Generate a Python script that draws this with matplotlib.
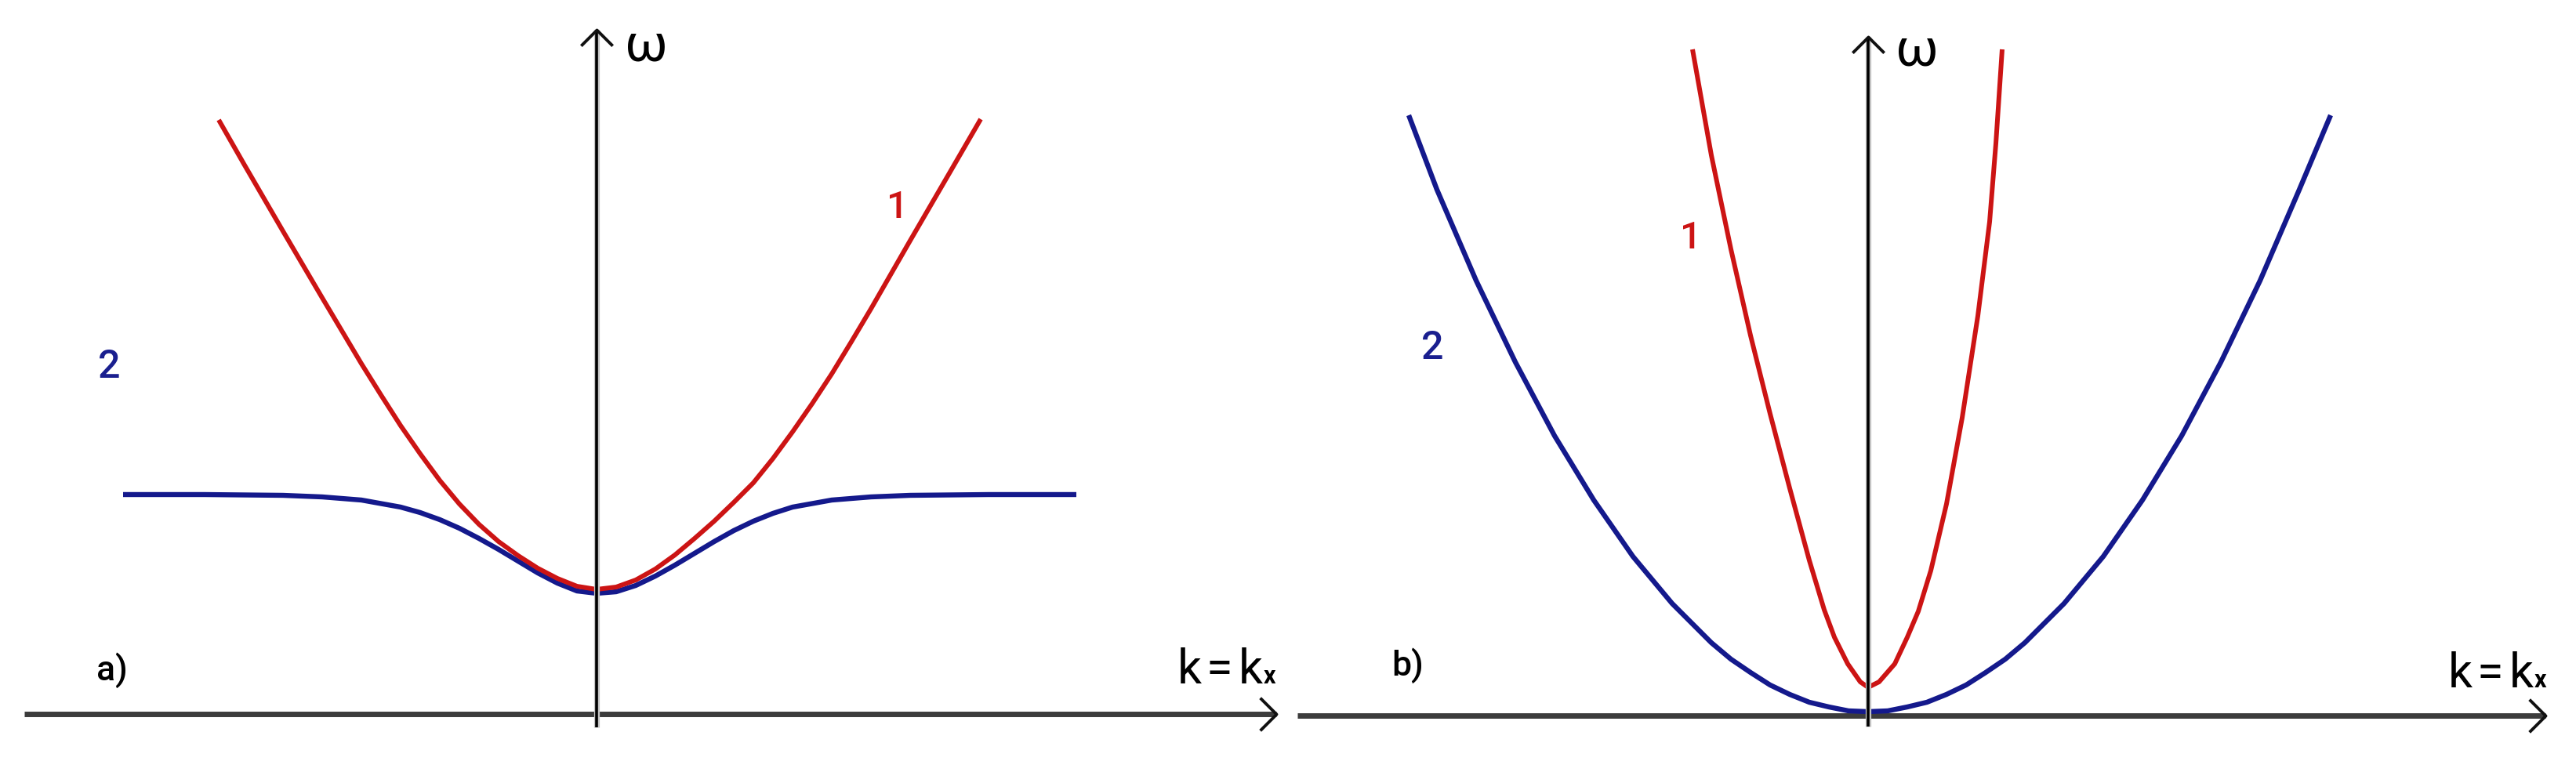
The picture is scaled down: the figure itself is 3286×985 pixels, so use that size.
import matplotlib
matplotlib.use("Agg")
import matplotlib.pyplot as plt
from matplotlib.path import Path

# ---------------- data ----------------
# panel a)  k in arbitrary units, omega in arbitrary units
a_red_k = [-4.82, -4.5, -4.0, -3.5, -3.0, -2.75, -2.5, -2.25, -2.0, -1.75, -1.5, -1.25,
           -1.0, -0.75, -0.5, -0.25, 0.0, 0.25, 0.5, 0.75, 1.0, 1.25, 1.5, 1.75, 2.0,
           2.25, 2.5, 2.75, 3.0, 3.25, 3.5, 4.0, 4.5, 4.90]
a_red_w = [7.58, 7.02, 6.16, 5.31, 4.47, 4.07, 3.68, 3.32, 2.98, 2.68, 2.42, 2.20,
           2.02, 1.86, 1.73, 1.63, 1.59, 1.62, 1.71, 1.85, 2.03, 2.24, 2.46, 2.70, 2.95,
           3.26, 3.60, 3.96, 4.34, 4.75, 5.17, 6.04, 6.90, 7.59]
a_blue_k = [-6.04, -5.0, -4.0, -3.5, -3.0, -2.5, -2.25, -2.0, -1.75, -1.5, -1.25, -1.0,
            -0.75, -0.5, -0.25, 0.0, 0.25, 0.5, 0.75, 1.0, 1.25, 1.5, 1.75, 2.0, 2.25,
            2.5, 3.0, 3.5, 4.0, 5.0, 6.12]
a_blue_w = [2.80, 2.80, 2.79, 2.77, 2.73, 2.64, 2.57, 2.48, 2.37, 2.24, 2.10, 1.95,
            1.80, 1.67, 1.57, 1.54, 1.56, 1.64, 1.76, 1.90, 2.05, 2.20, 2.34, 2.46, 2.56,
            2.64, 2.73, 2.77, 2.79, 2.80, 2.80]

# panel b)
b_red_k = [-2.24, -2.0, -1.75, -1.5, -1.25, -1.0, -0.75, -0.56, -0.43, -0.26, -0.10,
           0.0, 0.14, 0.34, 0.50, 0.64, 0.80, 1.0, 1.2, 1.4, 1.55, 1.63, 1.71]
b_red_w = [8.50, 7.15, 5.95, 4.85, 3.85, 2.90, 1.98, 1.35, 1.00, 0.66, 0.43,
           0.36, 0.43, 0.66, 1.00, 1.33, 1.85, 2.70, 3.80, 5.10, 6.30, 7.30, 8.50]
b_blue_k = [-5.86, -5.5, -5.0, -4.5, -4.0, -3.5, -3.0, -2.5, -2.0, -1.75, -1.5, -1.25,
            -1.0, -0.75, -0.5, -0.25, 0.0, 0.25, 0.5, 0.75, 1.0, 1.25, 1.5, 1.75, 2.0,
            2.5, 3.0, 3.5, 4.0, 4.5, 5.0, 5.5, 5.90]
b_blue_w = [7.66, 6.71, 5.55, 4.51, 3.57, 2.75, 2.03, 1.43, 0.93, 0.72, 0.55, 0.39,
            0.27, 0.17, 0.11, 0.06, 0.05, 0.06, 0.11, 0.17, 0.27, 0.39, 0.55, 0.72, 0.93,
            1.43, 2.03, 2.75, 3.57, 4.51, 5.55, 6.71, 7.66]

# axis extents (data units)
a_xaxis = (-7.30, 8.67)
a_yaxis = (-0.17, 8.73)
b_xaxis = (-7.28, 8.64)
b_yaxis = (-0.14, 8.66)

# curve labels: (text, k, omega, colour, size)
a_labels = [("1", 3.70, 6.33, "#cc1414", 35), ("2", -6.36, 4.29, "#1a1f8f", 36),
            ("a)", -6.38, 0.43, "black", 32)]
b_labels = [("1", -2.40, 5.96, "#cc1414", 35), ("2", -5.70, 4.55, "#1a1f8f", 36),
            ("b)", -6.08, 0.51, "black", 32)]
a_omega = (0.36, 8.34)
b_omega = (0.35, 8.30)
# axis label pieces "k", "=", "k", "x": left edges (k units) relative to label start
a_kx = (7.41, 0.39)
b_kx = (7.40, 0.36)
kx_pieces = [("k", 0.0, 44, "normal"), ("=", 0.37, 44, "normal"),
             ("k", 0.78, 44, "normal"), ("x", 1.10, 22, "bold")]

RED = "#cc1414"
BLUE = "#14198c"
FONT = ["Roboto", "DejaVu Sans"]

W, H, DPI = 3287, 985, 100
fig = plt.figure(figsize=(W / DPI, H / DPI), dpi=DPI)
fig.patch.set_facecolor("white")

right_chev = Path([(-1, 1), (0, 0), (-1, -1)], [Path.MOVETO, Path.LINETO, Path.LINETO])
up_chev = Path([(-1, -1), (0, 0), (1, -1)], [Path.MOVETO, Path.LINETO, Path.LINETO])


def make_ax(px0, px1, ox, oy):
    ax = fig.add_axes([px0 / W, 0, (px1 - px0) / W, 1])
    ax.set_xlim((px0 - ox) / 100, (px1 - ox) / 100)
    ax.set_ylim((oy - H) / 100, oy / 100)
    ax.axis("off")
    return ax


def draw_panel(ax, xaxis, yaxis, red_k, red_w, blue_k, blue_w, labels, omega, kx):
    # horizontal axis
    ax.plot(list(xaxis), [0, 0], color="#3c3c3c", lw=5.0, solid_capstyle="butt",
            zorder=1, clip_on=False)
    ax.plot([xaxis[1]], [0], marker=right_chev, ms=30, mfc="none", mec="#111111",
            mew=2.8, zorder=5, clip_on=False)
    # curves
    ax.plot(blue_k, blue_w, color=BLUE, lw=4.6, solid_capstyle="butt",
            solid_joinstyle="round", zorder=2)
    ax.plot(red_k, red_w, color=RED, lw=4.3, solid_capstyle="butt",
            solid_joinstyle="round", zorder=3)
    # vertical axis
    ax.plot([0, 0], list(yaxis), color="#c4c4c4", lw=5.2, solid_capstyle="butt", zorder=4,
            clip_on=False)
    ax.plot([0, 0], list(yaxis), color="black", lw=2.6, solid_capstyle="butt", zorder=4.5,
            clip_on=False)
    ax.plot([0], [yaxis[1]], marker=up_chev, ms=29, mfc="none", mec="#111111",
            mew=2.8, zorder=5, clip_on=False)
    # texts
    for t, x, y, c, s in labels:
        ax.text(x, y, t, color=c, fontsize=s, family=FONT, weight="medium",
                ha="left", va="baseline")
    ax.text(omega[0], omega[1], "\u03c9", fontsize=48, family=FONT, weight="normal",
            ha="left", va="baseline", color="black")
    for t, dx, s, wgt in kx_pieces:
        ax.text(kx[0] + dx, kx[1], t, fontsize=s, family=FONT, weight=wgt,
                ha="left", va="baseline", color="black")


ax_a = make_ax(0, 1642, 761, 911)
draw_panel(ax_a, a_xaxis, a_yaxis, a_red_k, a_red_w, a_blue_k, a_blue_w,
           a_labels, a_omega, a_kx)
ax_b = make_ax(1642, W, 2383, 913)
draw_panel(ax_b, b_xaxis, b_yaxis, b_red_k, b_red_w, b_blue_k, b_blue_w,
           b_labels, b_omega, b_kx)

fig.savefig("out.png", dpi=DPI, facecolor="white")
